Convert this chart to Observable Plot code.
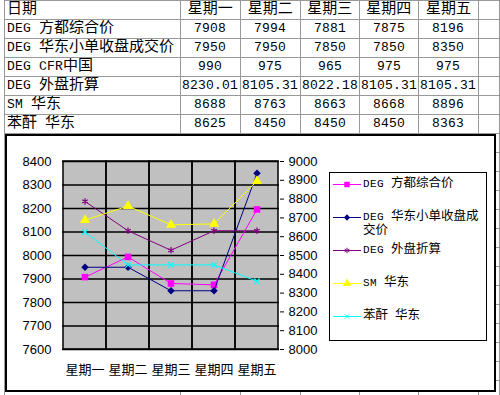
<!DOCTYPE html>
<html><head><meta charset="utf-8">
<script src="https://cdn.jsdelivr.net/npm/d3@7"></script>
<script src="https://cdn.jsdelivr.net/npm/@observablehq/plot@0.6"></script>
<style>
@font-face { font-family: "LMono"; src: local("Liberation Mono"); size-adjust: 86%; }
html,body{margin:0;padding:0;background:#fff;}
body{width:500px;height:395px;overflow:hidden;position:relative;}
#sheet{position:absolute;left:4px;top:0;border-collapse:collapse;table-layout:fixed;font-family:"LMono","Noto Sans CJK SC",sans-serif;font-size:15px;color:#000;}
#sheet td{border:1px solid #999;height:18px;padding:0;line-height:18px;white-space:nowrap;overflow:hidden;}
#sheet td.lab{padding-left:2px;text-align:left;}
#sheet td.num{text-align:center;}
#chartbox{position:absolute;left:5px;top:134px;width:487px;height:254px;border:2px solid #000;background:#fff;}
#plot{position:absolute;left:0;top:0;}
#legend{position:absolute;left:322px;top:36px;width:156px;height:163px;border:1px solid #000;background:#fff;padding-top:4px;box-sizing:content-box;font-family:"LMono","Noto Sans CJK SC",sans-serif;font-size:12.5px;}
#legend .item{display:flex;align-items:flex-start;height:33px;padding-left:3px;}
#legend svg{flex:none;margin-right:2px;}
#legend .txt{width:118px;line-height:14px;}
</style>
</head><body>
<table id="sheet"></table>
<div id="chartbox"><div id="plot"></div><div id="legend"></div></div>
<script>
// ---- data ----
const headerLabel = "日期";
const days = ["星期一","星期二","星期三","星期四","星期五"];
const rowLabels = ["DEG 方都综合价","DEG 华东小单收盘成交价","DEG CFR中国","DEG 外盘折算","SM 华东","苯酐 华东"];
const fangdu = [7908, 7994, 7881, 7875, 8196];
const huadongXiaodan = [7950, 7950, 7850, 7850, 8350];
const cfrChina = [990, 975, 965, 975, 975];
const waipan = [8230.01, 8105.31, 8022.18, 8105.31, 8105.31];
const smHuadong = [8688, 8763, 8663, 8668, 8896];
const benganHuadong = [8625, 8450, 8450, 8450, 8363];
const tableValues = [fangdu, huadongXiaodan, cfrChina, waipan, smHuadong, benganHuadong];
const leftTicks = [7600,7700,7800,7900,8000,8100,8200,8300,8400];
const rightTicks = [8000,8100,8200,8300,8400,8500,8600,8700,8800,8900,9000];

// ---- table ----
const colW = [181, 63, 63, 61, 61, 63, 40];
const fmt = v => Number.isInteger(v) ? String(v) : v.toFixed(2);
const tbl = document.getElementById("sheet");
const cg = document.createElement("colgroup");
colW.forEach(w => { const c = document.createElement("col"); c.style.width = w + "px"; cg.appendChild(c); });
tbl.appendChild(cg);
function addRow(cells) {
  const tr = document.createElement("tr");
  tr.style.height = "19px";
  cells.forEach((c, i) => {
    const td = document.createElement("td");
    td.textContent = c;
    td.className = i === 0 ? "lab" : "num";
    tr.appendChild(td);
  });
  tbl.appendChild(tr);
}
addRow([headerLabel, ...days, ""]);
rowLabels.forEach((lab, r) => addRow([lab, ...tableValues[r].map(fmt), ""]));
for (let k = 0; k < 14; k++) addRow(["", "", "", "", "", "", ""]);

// ---- chart ----
const toLeft = v => 7600 + (v - 8000) * 0.8;
const fromLeft = y => 8000 + (y - 7600) / 0.8;
const series = [
  {name: rowLabels[0], values: fangdu, axis: "left", color: "#ff00ff", symbol: "square", r: 3.7, fill: true},
  {name: rowLabels[1], values: huadongXiaodan, axis: "left", color: "#000080", symbol: "diamond2", r: 3.4, fill: true},
  {name: rowLabels[3], values: waipan, axis: "left", color: "#800080", symbol: "asterisk", r: 3, fill: false},
  {name: rowLabels[4], values: smHuadong, axis: "right", color: "#ffff00", symbol: "triangle", r: 3.8, fill: true},
  {name: rowLabels[5], values: benganHuadong, axis: "right", color: "#00ffff", symbol: "times", r: 2.6, fill: false}
];
const pts = s => s.values.map((v, i) => ({day: days[i], y: s.axis === "left" ? v : toLeft(v)}));

const marks = [
  Plot.cell(days, {x: d => d, fill: "#c0c0c0", inset: 0}),
  Plot.gridY(leftTicks, {stroke: "#000", strokeOpacity: 1, strokeWidth: 1.5}),
  Plot.cell(days, {x: d => d, fill: "none", stroke: "#000", strokeWidth: 1.5, inset: 0}),
  Plot.axisY({anchor: "left", ticks: leftTicks, tickFormat: d => String(d), tickSize: 0, tickPadding: 11, label: null, fontSize: 13}),
  Plot.axisY({anchor: "right", ticks: rightTicks.map(toLeft), tickFormat: y => String(Math.round(fromLeft(y))), tickSize: 4, tickPadding: 5, label: null, fontSize: 13}),
  Plot.axisX({tickSize: 0, tickPadding: 15, label: null, fontSize: 13, fontFamily: "Noto Sans CJK SC"})
];
series.forEach(s => {
  marks.push(Plot.line(pts(s), {x: "day", y: "y", stroke: s.color, strokeWidth: 1}));
  marks.push(Plot.dot(pts(s), {x: "day", y: "y", symbol: s.symbol, r: s.r,
    fill: s.fill ? s.color : "none", stroke: s.fill ? "none" : s.color, strokeWidth: s.fill ? 0 : 1.2}));
});

const chart = Plot.plot({
  width: 487, height: 254,
  marginLeft: 55, marginRight: 215, marginTop: 25, marginBottom: 41,
  x: {type: "band", domain: days, padding: 0},
  y: {domain: [7600, 8400]},
  style: {fontFamily: "'Liberation Sans', Arial, 'Noto Sans CJK SC', sans-serif", fontSize: "13px", background: "transparent", color: "#000"},
  marks
});
document.getElementById("plot").appendChild(chart);

// ---- legend ----
const symMap = {square: d3.symbolSquare, diamond2: d3.symbolDiamond2, asterisk: d3.symbolAsterisk, triangle: d3.symbolTriangle, times: d3.symbolTimes};
const leg = document.getElementById("legend");
series.forEach(s => {
  const item = document.createElement("div");
  item.className = "item";
  const ns = "http://www.w3.org/2000/svg";
  const sv = document.createElementNS(ns, "svg");
  sv.setAttribute("width", 28); sv.setAttribute("height", 14);
  const ln = document.createElementNS(ns, "line");
  ln.setAttribute("x1", 0); ln.setAttribute("x2", 28); ln.setAttribute("y1", 7.5); ln.setAttribute("y2", 7.5);
  ln.setAttribute("stroke", s.color); ln.setAttribute("stroke-width", 1);
  sv.appendChild(ln);
  const p = document.createElementNS(ns, "path");
  p.setAttribute("d", d3.symbol(symMap[s.symbol], Math.PI * s.r * s.r * 0.7)());
  p.setAttribute("transform", "translate(14,7.5)");
  p.setAttribute("fill", s.fill ? s.color : "none");
  p.setAttribute("stroke", s.fill ? "none" : s.color);
  sv.appendChild(p);
  item.appendChild(sv);
  const t = document.createElement("div");
  t.className = "txt";
  t.textContent = s.name;
  item.appendChild(t);
  leg.appendChild(item);
});
</script>
</body></html>
